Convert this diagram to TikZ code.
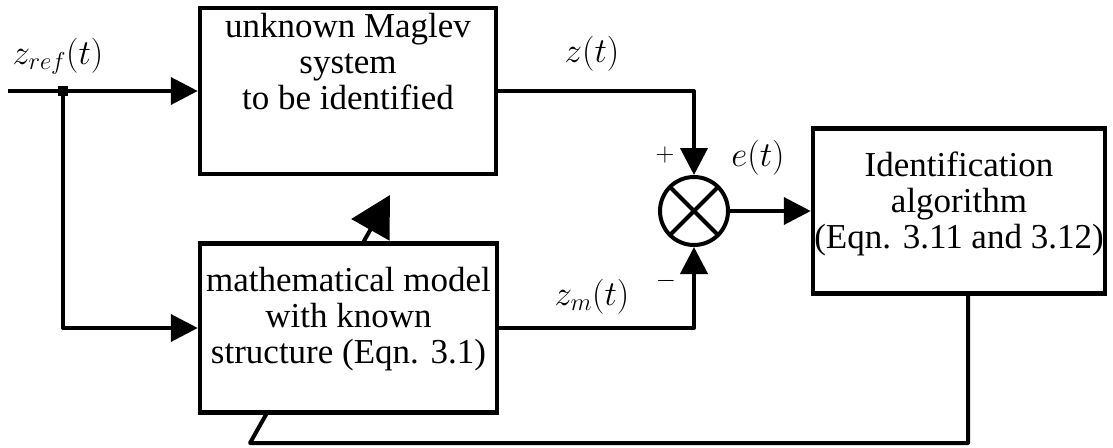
\RequirePackage{fix-cm}
\documentclass[tikz,border=0pt]{standalone}
\usepackage{fontspec}
\setmainfont{Liberation Serif}
\usetikzlibrary{arrows.meta}

\begin{document}
\begin{tikzpicture}[x=1pt,y=-1pt,
  font=\fontsize{35}{36}\selectfont,
  blk/.style={draw,line width=4.5pt,fill=white,inner sep=0pt,rectangle},
  wire/.style={line width=4pt,line join=round},
  tip/.style={-{Triangle[length=27pt,width=27pt]}},
  bigtip/.style={-{Triangle[length=40pt,width=43pt]}},
  txt/.style={align=center,anchor=base,inner sep=0pt},
  lbl/.style={inner sep=0pt,anchor=base},
  sgn/.style={inner sep=0pt,font=\fontsize{26}{28}\selectfont}]
\useasboundingbox (0,0) rectangle (1113,447);

% feedback path runs behind the model block
\coordinate (fbcorner) at (968,443);
\coordinate (fbturn) at (250,443);
\coordinate (fbtip) at (390,195);

\node[blk,minimum width=292pt,minimum height=165pt] (ident) at (959,211) {};
\draw[wire,bigtip] (ident.south -| fbcorner) |- (fbturn) -- (fbtip);

% blocks
\node[blk,minimum width=296pt,minimum height=166pt] (plant) at (348,91) {};
\node[blk,minimum width=297pt,minimum height=169pt] (model) at (348.5,328) {};
\node[draw,circle,line width=4pt,minimum size=68pt,inner sep=0pt,fill=white,
  path picture={
    \draw[line width=4pt] (path picture bounding box.north west) -- (path picture bounding box.south east);
    \draw[line width=4pt] (path picture bounding box.north east) -- (path picture bounding box.south west);
  }] (sum) at (694,211) {};

% block texts (anchored on the baseline of the last line)
\node[txt] (plantTxt) at (348,109) {unknown Maglev\\system\\to be identified};
\node[txt] (modelTxt) at (348.5,363) {mathematical model\\with known\\structure (Eqn. 3.1)};
\node[txt] (identTxt) at (959,248) {Identification\\algorithm\\(Eqn. 3.11 and 3.12)};

% signal paths
\coordinate (in) at (8,91);
\coordinate (split) at (63,91);
\draw[wire,tip] (in) -- (plant.west);
\draw[wire,tip] (split) |- (model.west);
\node[fill,minimum size=10pt,inner sep=0pt] (dot) at (split) {};
\draw[wire,tip] (plant.east) -| (sum.north);
\draw[wire,tip] (model.east) -| (sum.south);
\draw[wire,tip] (sum.east) -- (ident.west);

% signal labels
\node[lbl] (zref) at (58,64) {$z_{ref}(t)$};
\node[lbl] (zt) at (592,62) {$z(t)$};
\node[lbl] (et) at (758,166) {$e(t)$};
\node[lbl] (zmt) at (592,305) {$z_m(t)$};
\node[sgn] (plus) at (665,155) {$+$};
\node[sgn] (minus) at (666,281) {$-$};
\end{tikzpicture}
\end{document}
